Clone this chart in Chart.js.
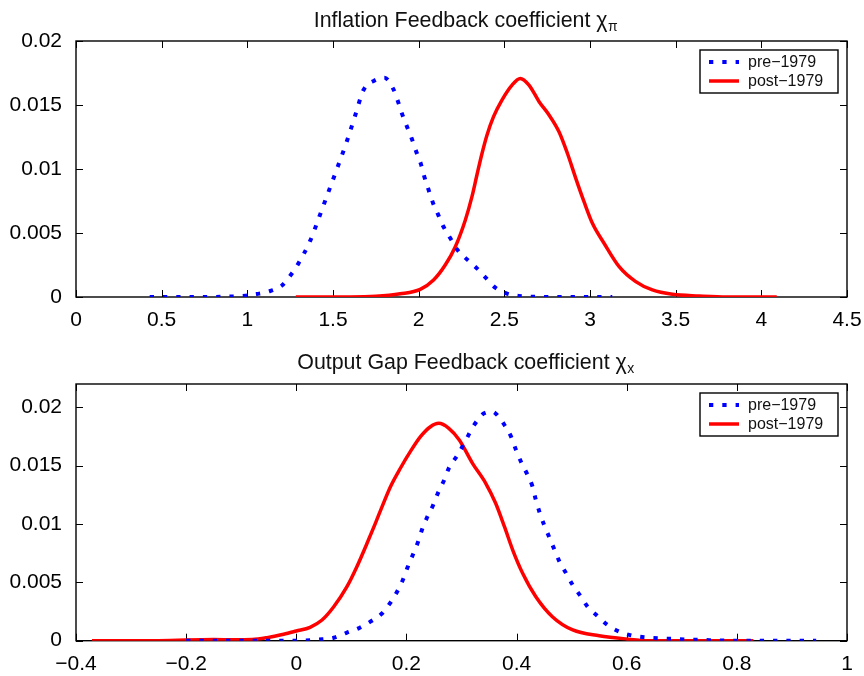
<!DOCTYPE html>
<html><head><meta charset="utf-8">
<script src="https://cdn.jsdelivr.net/npm/chart.js@4"></script>
<style>
html,body{margin:0;padding:0;background:#fff;}
#wrap{position:relative;width:864px;height:676px;overflow:hidden;}
canvas{position:absolute;left:0;}
</style></head><body>
<div id="wrap">
<canvas id="c1" width="864" height="340" style="top:0"></canvas>
<canvas id="c2" width="864" height="336" style="top:340px"></canvas>
</div>
<script>
// ---------- Data: Inflation feedback coefficient chi_pi ----------
const preX_pi = [0.43,0.7,0.99,1.055,1.12,1.2,1.25,1.295,1.367,1.42,1.474,1.529,1.58,1.63,1.678,1.74,1.80,1.853,1.883,1.902,1.932,1.961,1.986,2.013,2.033,2.058,2.083,2.113,2.145,2.185,2.227,2.282,2.34,2.395,2.447,2.512,2.584,2.8,3.13];
const preY_pi = [0,0,0.0001,0.00023,0.00041,0.00088,0.00166,0.00255,0.0044,0.00627,0.00823,0.01023,0.01213,0.0142,0.01617,0.0169,0.01713,0.01622,0.01513,0.01435,0.0133,0.01232,0.01135,0.01039,0.0094,0.00836,0.00737,0.00646,0.00549,0.00459,0.00367,0.00294,0.00224,0.00146,0.00073,0.00029,0.00008,0,0];
const postX_pi = [1.283,1.6,1.75,1.8925,2.009,2.087,2.155,2.214,2.272,2.311,2.34,2.37,2.399,2.437,2.486,2.545,2.593,2.644,2.703,2.761,2.819,2.868,2.917,2.965,3.014,3.082,3.17,3.267,3.364,3.481,3.637,3.8,4.09];
const postY_pi = [0,0,0.00005,0.00025,0.0006,0.00133,0.0025,0.00393,0.006,0.00784,0.00953,0.01123,0.01266,0.01409,0.01539,0.01656,0.01708,0.01656,0.01526,0.01422,0.01291,0.01123,0.00927,0.00745,0.00576,0.0042,0.00237,0.0012,0.00055,0.00021,0.00008,0,0];
const xTicks_pi = [0,0.5,1,1.5,2,2.5,3,3.5,4,4.5];
const yTicks_pi = [0,0.005,0.01,0.015,0.02];

// ---------- Data: Output gap feedback coefficient chi_x ----------
const preX_x = [-0.2,-0.005,0.047,0.068,0.092,0.113,0.1345,0.156,0.171,0.183,0.194,0.2025,0.2115,0.2206,0.2285,0.2376,0.248,0.257,0.268,0.277,0.293,0.308,0.323,0.341,0.356,0.365,0.378,0.39,0.399,0.408,0.42,0.429,0.435,0.442,0.45,0.459,0.469,0.478,0.49,0.502,0.517,0.529,0.547,0.565,0.587,0.611,0.641,0.684,0.732,0.8,0.944];
const preY_x = [0,0,0.00012,0.00025,0.00069,0.00106,0.00163,0.00235,0.00326,0.0042,0.00526,0.00634,0.00735,0.0084,0.00955,0.01058,0.01157,0.01263,0.01371,0.01478,0.01592,0.0172,0.01849,0.01949,0.01963,0.01934,0.01849,0.01749,0.01635,0.01534,0.0142,0.0132,0.01206,0.01097,0.00992,0.00891,0.00777,0.00677,0.00578,0.00477,0.00377,0.00291,0.00212,0.00135,0.00077,0.00043,0.00026,0.00015,0.00007,0,0];
const postX_x = [-0.371,-0.25,-0.15,-0.114,-0.08,-0.053,-0.023,0,0.025,0.0467,0.068,0.092,0.11,0.1285,0.1436,0.1558,0.171,0.189,0.207,0.2255,0.2436,0.2587,0.277,0.296,0.32,0.344,0.362,0.378,0.393,0.411,0.435,0.465,0.502,0.55,0.599,0.641,0.83];
const postY_x = [0,0,0.0001,0.00008,0.0001,0.00026,0.00055,0.00083,0.00115,0.00177,0.00291,0.00463,0.00634,0.00835,0.01006,0.01149,0.0132,0.01478,0.0162,0.01749,0.01834,0.01863,0.0182,0.0172,0.0152,0.01349,0.01178,0.00977,0.00777,0.00578,0.00377,0.00206,0.00092,0.00043,0.00015,0,0];
const xTicks_x = [-0.4,-0.2,0,0.2,0.4,0.6,0.8,1];
const yTicks_x = [0,0.005,0.01,0.015,0.02];

const seriesNames = ['pre\u22121979','post\u22121979'];

// ---------- Styling helpers ----------
const FONT = "'Liberation Sans', Arial, Helvetica, sans-serif";
const BLUE = 'rgb(0,0,255)', RED = 'rgb(255,0,0)';
const fmt = v => String(Math.round(v * 100000) / 100000).replace('-', '\u2212');
const pts = (xs, ys) => xs.map((x, i) => ({x: x, y: ys[i]}));

const boxTicks = {
  id: 'boxTicks',
  beforeDatasetsDraw(chart) {
    const {ctx, chartArea: a, scales} = chart;
    ctx.save();
    ctx.strokeStyle = '#000';
    ctx.lineWidth = 1;
    const L = 7;
    ctx.beginPath();
    scales.x.ticks.forEach(t => {
      const px = Math.round(scales.x.getPixelForValue(t.value)) + 0.5;
      ctx.moveTo(px, a.bottom); ctx.lineTo(px, a.bottom - L);
      ctx.moveTo(px, a.top); ctx.lineTo(px, a.top + L);
    });
    scales.y.ticks.forEach(t => {
      const py = Math.round(scales.y.getPixelForValue(t.value)) + 0.5;
      ctx.moveTo(a.left, py); ctx.lineTo(a.left + L, py);
      ctx.moveTo(a.right, py); ctx.lineTo(a.right - L, py);
    });
    ctx.stroke();
    ctx.lineWidth = 1.4;
    ctx.strokeRect(a.left, a.top, a.right - a.left, a.bottom - a.top);
    ctx.restore();
  }
};

const titlePlugin = {
  id: 'mtitle',
  afterDraw(chart, args, opts) {
    const {ctx, chartArea: a} = chart;
    ctx.save();
    ctx.fillStyle = '#111';
    ctx.textBaseline = 'alphabetic';
    const mainFont = '21.4px ' + FONT, subFont = '14px ' + FONT;
    ctx.font = mainFont;
    const w1 = ctx.measureText(opts.text).width;
    ctx.font = subFont;
    const w2 = ctx.measureText(opts.sub).width;
    const cx = (a.left + a.right) / 2 + 4;
    const x0 = cx - (w1 + w2) / 2;
    ctx.font = mainFont;
    ctx.textAlign = 'left';
    ctx.fillText(opts.text, x0, opts.y);
    ctx.font = subFont;
    ctx.fillText(opts.sub, x0 + w1 + 0.5, opts.y + 4);
    ctx.restore();
  }
};

const legendPlugin = {
  id: 'mlegend',
  afterDraw(chart) {
    const {ctx, chartArea: a} = chart;
    const w = 138, h = 43;
    const bx = a.right - 9 - w, by = a.top + 9;
    ctx.save();
    ctx.fillStyle = '#fff';
    ctx.fillRect(bx, by, w, h);
    ctx.strokeStyle = '#000';
    ctx.lineWidth = 1.4;
    ctx.strokeRect(bx, by, w, h);
    const rows = [by + 12, by + 31];
    chart.data.datasets.forEach((ds, i) => {
      const y = rows[i];
      ctx.beginPath();
      ctx.strokeStyle = ds.borderColor;
      ctx.lineWidth = ds.borderWidth;
      ctx.setLineDash(ds.borderDash || []);
      ctx.lineCap = 'butt';
      ctx.moveTo(bx + 9, y); ctx.lineTo(bx + 39, y);
      ctx.stroke();
      ctx.setLineDash([]);
      ctx.fillStyle = '#111';
      ctx.font = '16px ' + FONT;
      ctx.textBaseline = 'middle';
      ctx.textAlign = 'left';
      ctx.fillText(ds.label, bx + 48, y + 1);
    });
    ctx.restore();
  }
};

function makeChart(id, preX, preY, postX, postY, xTicks, yTicks, xmin, xmax, ymax, padTop, xAxisH, title, sub, titleY) {
  return new Chart(document.getElementById(id), {
    type: 'line',
    data: {
      datasets: [
        {label: seriesNames[0], data: pts(preX, preY), borderColor: BLUE, backgroundColor: BLUE,
         borderWidth: 4, borderDash: [4.3, 9], pointRadius: 0, cubicInterpolationMode: 'monotone', fill: false},
        {label: seriesNames[1], data: pts(postX, postY), borderColor: RED, backgroundColor: RED,
         borderWidth: 3.5, pointRadius: 0, cubicInterpolationMode: 'monotone', fill: false}
      ]
    },
    options: {
      responsive: false,
      animation: false,
      devicePixelRatio: 1,
      layout: {padding: {left: 0, right: 17, top: padTop, bottom: 0}},
      plugins: {legend: {display: false}, tooltip: {enabled: false}, title: {display: false},
                mtitle: {text: title, sub: sub, y: titleY}},
      scales: {
        x: {type: 'linear', min: xmin, max: xmax,
            afterBuildTicks: s => { s.ticks = xTicks.map(v => ({value: v})); },
            afterFit: s => { s.height = xAxisH; s.paddingLeft = 0; s.paddingRight = 0; },
            grid: {display: false, drawTicks: false}, border: {display: false},
            ticks: {callback: v => fmt(v), color: '#000', font: {family: FONT, size: 21}, padding: 11, maxRotation: 0, autoSkip: false}},
        y: {type: 'linear', min: 0, max: ymax,
            afterBuildTicks: s => { s.ticks = yTicks.map(v => ({value: v})); },
            afterFit: s => { s.width = 76; s.paddingTop = 0; s.paddingBottom = 0; },
            grid: {display: false, drawTicks: false}, border: {display: false},
            ticks: {callback: v => fmt(v), color: '#000', font: {family: FONT, size: 21}, padding: 14, autoSkip: false}}
      }
    },
    plugins: [boxTicks, titlePlugin, legendPlugin]
  });
}

makeChart('c1', preX_pi, preY_pi, postX_pi, postY_pi, xTicks_pi, yTicks_pi, 0, 4.5, 0.02, 41, 43,
          'Inflation Feedback coefficient \u03c7', '\u03c0', 27);
makeChart('c2', preX_x, preY_x, postX_x, postY_x, xTicks_x, yTicks_x, -0.4, 1, 0.022, 44, 35.3,
          'Output Gap Feedback coefficient \u03c7', 'x', 28.5);
</script>
</body></html>
